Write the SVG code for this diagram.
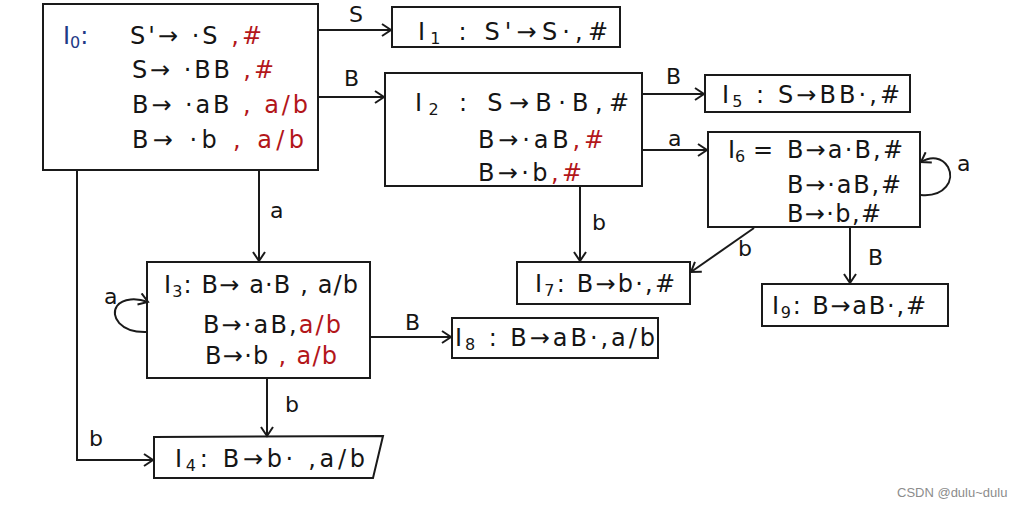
<svg xmlns="http://www.w3.org/2000/svg" width="1032" height="507" viewBox="0 0 1032 507">
<style>
.box{fill:none;stroke:#1a1a1a;stroke-width:2}
.t{font-family:"DejaVu Sans","Liberation Sans",sans-serif;font-size:24px;fill:#151515}
.r{fill:#b3161a}
.bl{fill:#1f3a86}
.sub{font-size:16px}
.lbl{font-family:"DejaVu Sans","Liberation Sans",sans-serif;font-size:22px;fill:#151515}
.edge{fill:none;stroke:#1a1a1a;stroke-width:2}
.wm{font-family:"Liberation Sans","DejaVu Sans",sans-serif;font-size:13px;fill:#8c8c8c}
</style>
<defs>
<marker id="ah" markerUnits="userSpaceOnUse" markerWidth="12" markerHeight="14" refX="10" refY="7" orient="auto">
<path d="M1,1 L10,7 L1,13" fill="none" stroke="#1a1a1a" stroke-width="2"/>
</marker>
</defs>
<rect width="1032" height="507" fill="#ffffff"/>

<g id="I0">
<rect class="box" x="43" y="4" width="275" height="166"/>
<text class="t bl" x="63" y="44">I<tspan class="sub" dy="4">0</tspan><tspan dy="-4">:</tspan></text>
<text class="t" x="130" y="44" textLength="132">S'→ ·S <tspan class="r">,#</tspan></text>
<text class="t" x="132" y="78" textLength="142">S→ ·BB <tspan class="r">,#</tspan></text>
<text class="t" x="132" y="113" textLength="176">B→ ·aB <tspan class="r">, a/b</tspan></text>
<text class="t" x="132" y="148" textLength="172">B→ ·b  <tspan class="r">, a/b</tspan></text>
</g>

<g id="I1">
<rect class="box" x="392" y="7" width="228" height="40"/>
<text class="t" x="418" y="40" textLength="190">I<tspan class="sub" dy="4">1</tspan><tspan dy="-4"> : S'→S·,#</tspan></text>
</g>

<g id="I2">
<rect class="box" x="385" y="73" width="257" height="113"/>
<text class="t" x="415" y="111" textLength="214">I<tspan class="sub" dy="4">2</tspan><tspan dy="-4"> : S→B·B,#</tspan></text>
<text class="t" x="478" y="148" textLength="126">B→·aB<tspan class="r">,#</tspan></text>
<text class="t" x="478" y="181" textLength="104">B→·b<tspan class="r">,#</tspan></text>
</g>

<g id="I3">
<rect class="box" x="147" y="262" width="223" height="116"/>
<text class="t" x="164" y="293" textLength="194">I<tspan class="sub" dy="4">3</tspan><tspan dy="-4">: B→ a·B , a/b</tspan></text>
<text class="t" x="203" y="333" textLength="138">B→·aB,<tspan class="r">a/b</tspan></text>
<text class="t" x="205" y="364" textLength="132">B→·b <tspan class="r">, a/b</tspan></text>
</g>

<g id="I4">
<path class="box" d="M154,437 L383,436 L373,478 L154,478 Z"/>
<text class="t" x="175" y="467" textLength="190">I<tspan class="sub" dy="4">4</tspan><tspan dy="-4">: B→b· ,a/b</tspan></text>
</g>

<g id="I5">
<rect class="box" x="705" y="75" width="205" height="37"/>
<text class="t" x="722" y="103" textLength="178">I<tspan class="sub" dy="4">5</tspan><tspan dy="-4"> : S→BB·,#</tspan></text>
</g>

<g id="I6">
<rect class="box" x="708" y="132" width="212" height="95"/>
<text class="t" x="728" y="158">I<tspan class="sub" dy="4">6</tspan><tspan dy="-4"> =</tspan></text>
<text class="t" x="787" y="158" textLength="116">B→a·B,#</text>
<text class="t" x="787" y="193" textLength="114">B→·aB,#</text>
<text class="t" x="787" y="222" textLength="94">B→·b,#</text>
</g>

<g id="I7">
<rect class="box" x="517" y="262" width="173" height="42"/>
<text class="t" x="535" y="292" textLength="140">I<tspan class="sub" dy="4">7</tspan><tspan dy="-4">: B→b·,#</tspan></text>
</g>

<g id="I8">
<rect class="box" x="452" y="318" width="206" height="40"/>
<text class="t" x="455" y="346" textLength="200">I<tspan class="sub" dy="4">8</tspan><tspan dy="-4"> : B→aB·,a/b</tspan></text>
</g>

<g id="I9">
<rect class="box" x="762" y="284" width="186" height="42"/>
<text class="t" x="772" y="314" textLength="154">I<tspan class="sub" dy="4">9</tspan><tspan dy="-4">: B→aB·,#</tspan></text>
</g>

<g id="connectors">
<path class="edge" d="M318,30 L391,30" marker-end="url(#ah)"/>
<text class="lbl" x="349" y="22">S</text>
<path class="edge" d="M318,97 L384,97" marker-end="url(#ah)"/>
<text class="lbl" x="344" y="86">B</text>
<path class="edge" d="M259,170 L259,261" marker-end="url(#ah)"/>
<text class="lbl" x="270" y="218">a</text>
<path class="edge" d="M77,170 L77,460 L153,460" marker-end="url(#ah)"/>
<text class="lbl" x="89" y="446">b</text>
<path class="edge" d="M370,337 L451,337" marker-end="url(#ah)"/>
<text class="lbl" x="405" y="330">B</text>
<path class="edge" d="M267,378 L267,436" marker-end="url(#ah)"/>
<text class="lbl" x="285" y="412">b</text>
<path class="edge" d="M642,94 L704,94" marker-end="url(#ah)"/>
<text class="lbl" x="666" y="84">B</text>
<path class="edge" d="M642,150 L707,150" marker-end="url(#ah)"/>
<text class="lbl" x="668" y="146">a</text>
<path class="edge" d="M580,186 L580,261" marker-end="url(#ah)"/>
<text class="lbl" x="592" y="230">b</text>
<path class="edge" d="M754,228 L691,272" marker-end="url(#ah)"/>
<text class="lbl" x="738" y="256">b</text>
<path class="edge" d="M850,227 L850,283" marker-end="url(#ah)"/>
<text class="lbl" x="868" y="265">B</text>
<path class="edge" d="M921,195 C945,197 955,180 948,167 C942,157 931,156 921,162" marker-end="url(#ah)"/>
<text class="lbl" x="957" y="171">a</text>
<path class="edge" d="M147,332 C120,333 110,316 117,306 C123,298 137,298 148,302" marker-end="url(#ah)"/>
<text class="lbl" x="104" y="304">a</text>
</g>

<text class="wm" x="897" y="497">CSDN @dulu~dulu</text>
</svg>
